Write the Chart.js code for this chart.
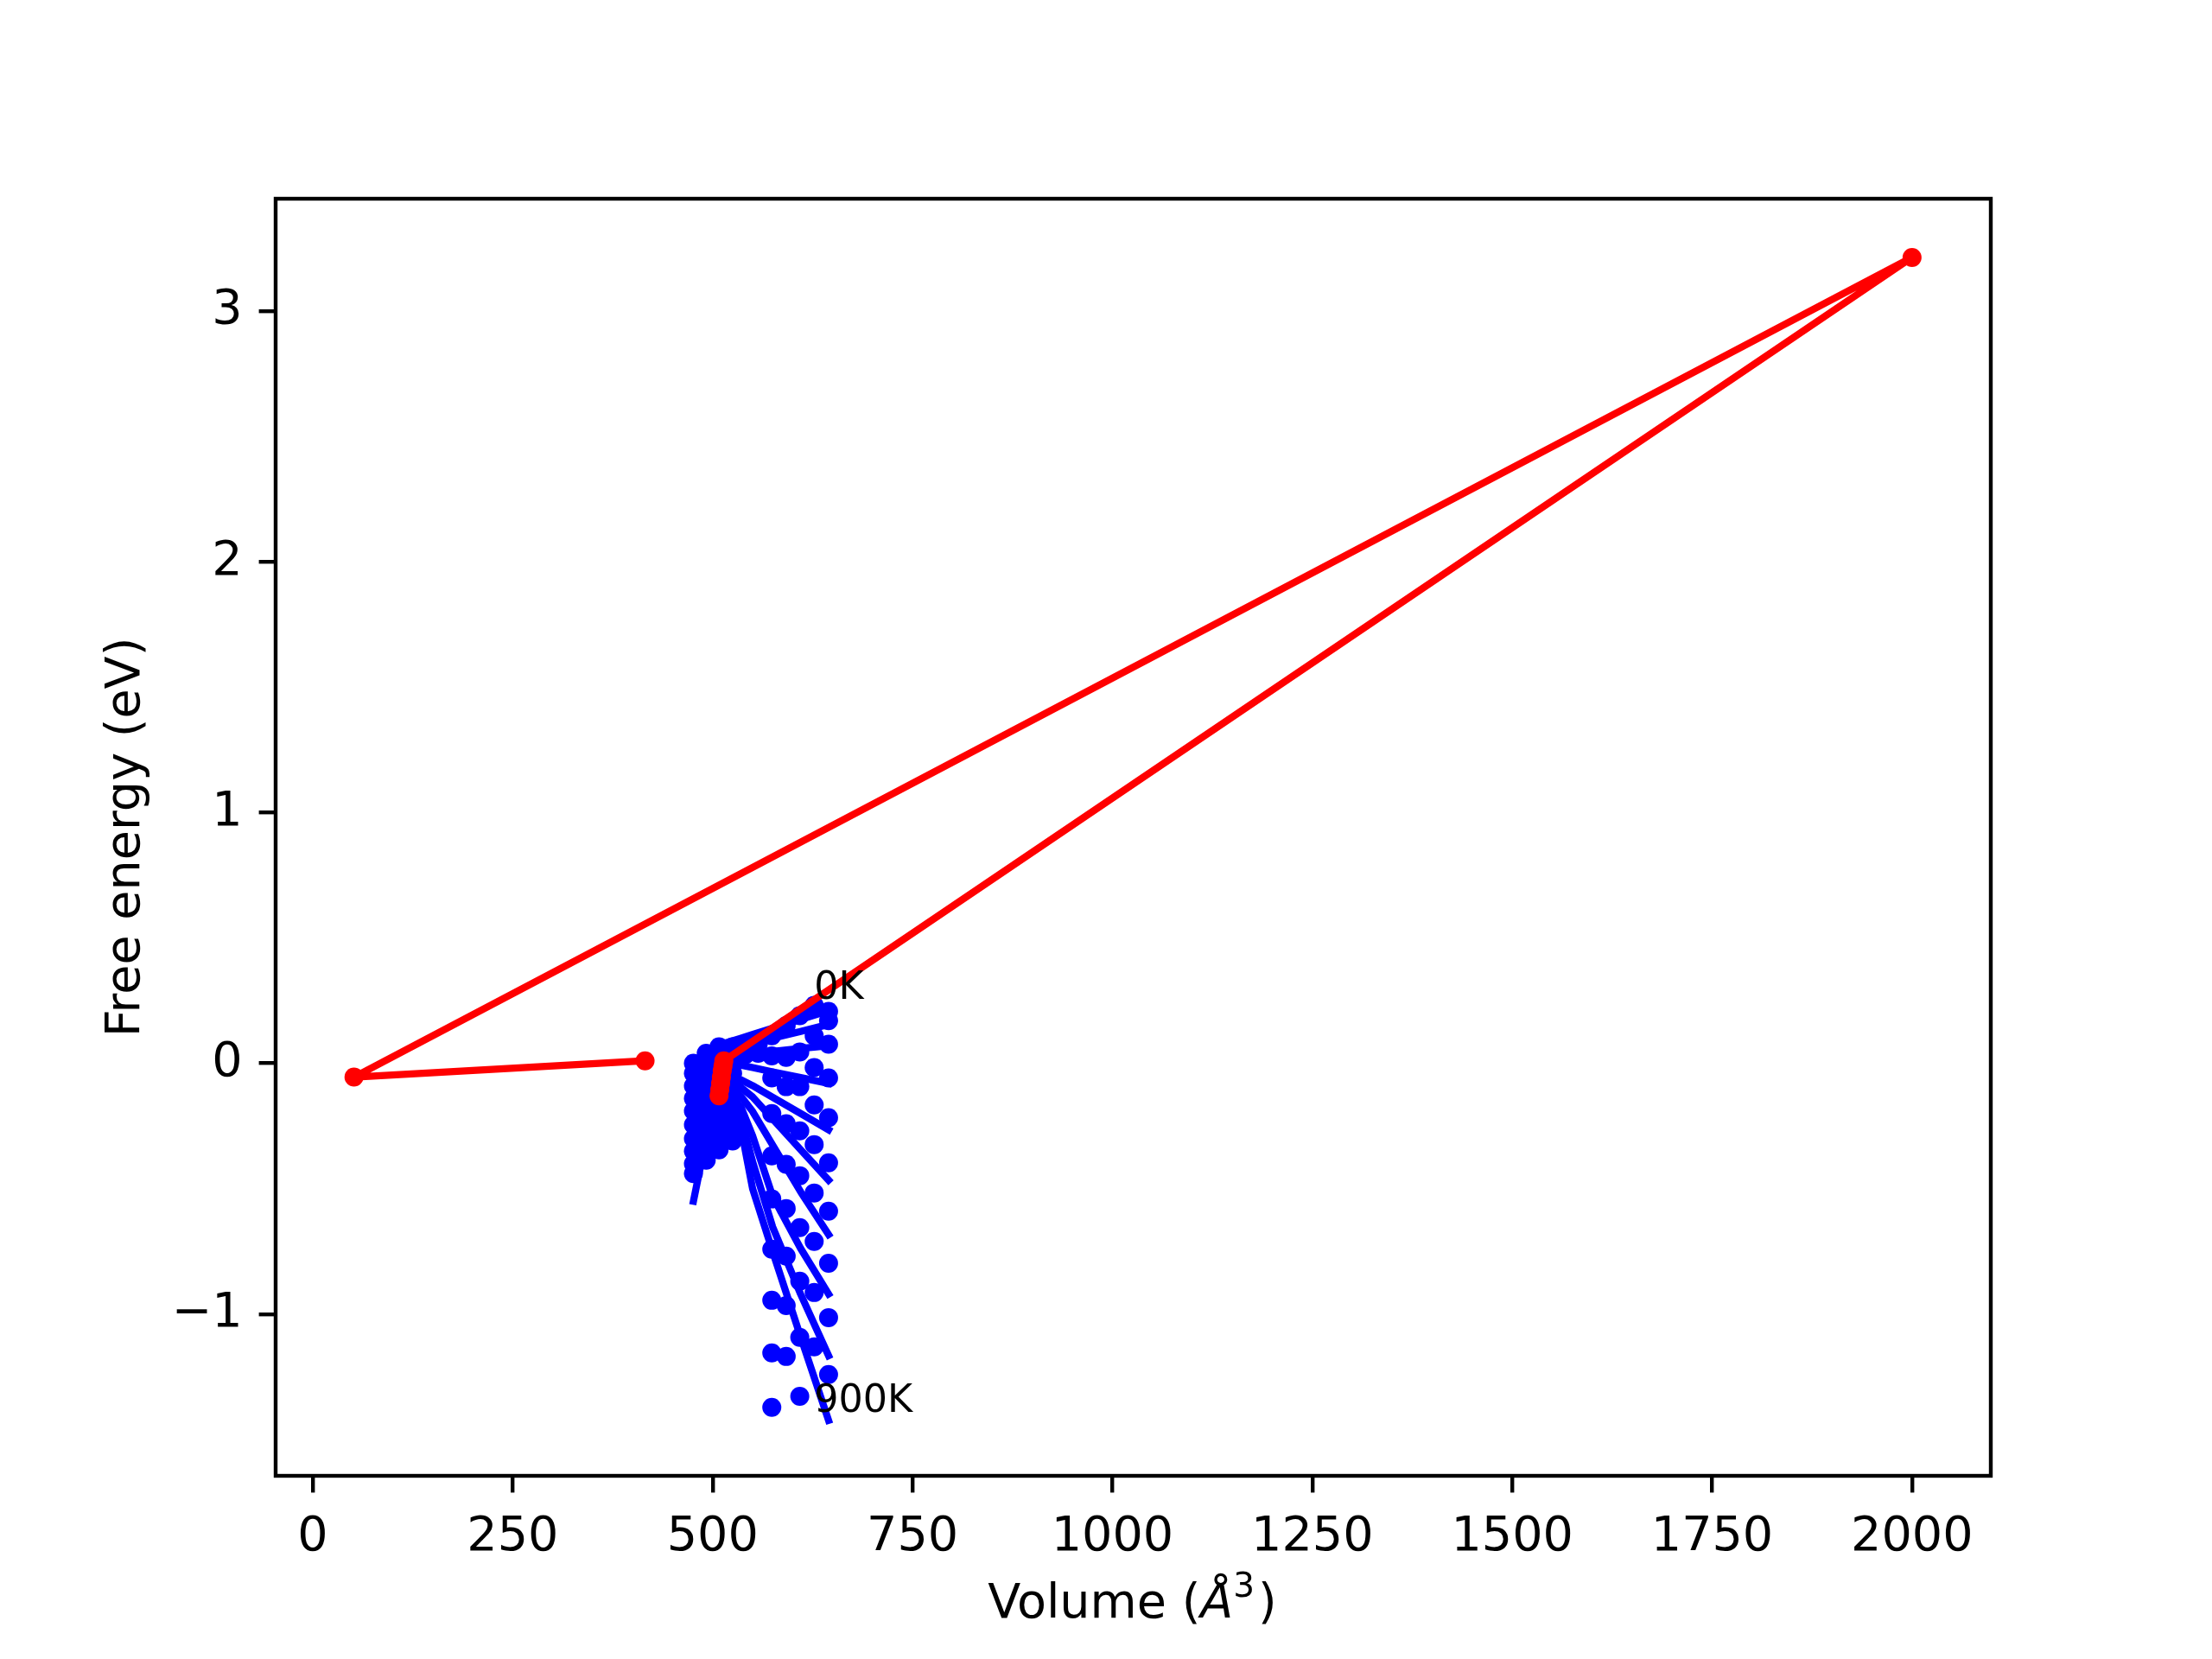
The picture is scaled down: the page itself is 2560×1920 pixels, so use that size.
<!DOCTYPE html>
<html lang="en">
<head>
<meta charset="UTF-8">
<title>Free energy vs volume</title>
<script src="https://cdn.jsdelivr.net/npm/chart.js"></script>
<style>
  body { margin: 0; background: #fff; }
  #wrap { width: 2560px; height: 1920px; }
</style>
</head>
<body>
<div id="wrap"><canvas id="qhaChart" width="2560" height="1920"></canvas></div>
<script>
// temperatures shown (every 100 K)
const temperatures = [0, 100, 200, 300, 400, 500, 600, 700, 800, 900];

// volumes (A^3) where the free energies were computed
const volumes = [476, 492, 508, 525, 541, 557, 574, 592, 609, 627, 645];

// free energy points (eV) for each temperature, null = no point
const free0K   = [0.0, 0.04, 0.066, 0.066, 0.066, 0.075, 0.11, 0.15, 0.19, 0.231, 0.207];
const free100K = [-0.04, 0.0, 0.03, 0.035, 0.035, 0.04, 0.03, 0.024, 0.045, 0.11, 0.17];
const free200K = [-0.09, -0.04, -0.01, 0.0, null, null, -0.058, -0.093, -0.093, -0.017, 0.076];
const free300K = [-0.14, -0.09, -0.06, -0.04, null, null, -0.2, -0.241, -0.269, -0.166, -0.058];
const free400K = [-0.19, -0.14, -0.1, -0.08, null, null, -0.369, -0.403, -0.448, -0.324, -0.217];
const free500K = [-0.245, -0.19, -0.15, -0.12, null, null, -0.541, -0.579, -0.655, -0.517, -0.397];
const free600K = [-0.3, -0.24, -0.2, -0.17, null, null, -0.741, -0.769, -0.869, -0.71, -0.59];
const free700K = [-0.35, -0.29, -0.25, -0.21, null, null, -0.945, -0.966, -1.093, -0.914, -0.797];
const free800K = [-0.4, -0.34, -0.3, -0.26, null, null, -1.155, -1.169, -1.328, -1.131, -1.014];
const free900K = [-0.44, -0.386, -0.345, -0.31, null, null, -1.372, null, null, null, -1.241];

// fitted EOS curves at these volumes
const fitVolumes = [476, 490, 505, 520, 535, 550, 575, 610, 645];
const fit0K   = [0.0, 0.04, 0.07, 0.085, 0.1, 0.115, 0.14, 0.175, 0.21];
const fit100K = [-0.02, 0.02, 0.045, 0.058, 0.068, 0.08, 0.1, 0.127, 0.155];
const fit200K = [-0.05, -0.01, 0.015, 0.028, 0.034, 0.039, 0.047, 0.059, 0.07];
const fit300K = [-0.09, -0.05, -0.025, -0.01, -0.007, -0.017, -0.034, -0.057, -0.08];
const fit400K = [-0.13, -0.08, -0.06, -0.055, -0.065, -0.089, -0.135, -0.2, -0.265];
const fit500K = [-0.19, -0.13, -0.1, -0.09, -0.095, -0.134, -0.222, -0.344, -0.466];
const fit600K = [-0.25, -0.17, -0.13, -0.12, -0.13, -0.192, -0.326, -0.512, -0.683];
const fit700K = [-0.33, -0.22, -0.17, -0.16, -0.17, -0.289, -0.53, -0.738, -0.92];
const fit800K = [-0.42, -0.28, -0.21, -0.19, -0.21, -0.392, -0.652, -0.92, -1.166];
const fit900K = [-0.55, -0.33, -0.23, -0.21, -0.25, -0.5, -0.75, -1.09, -1.424];

// equilibrium points (red)
const eqVolumes  = [508, 509, 510, 511, 512, 513, 514, 2000, 51.5, 415.5];
const eqEnergies = [-0.13, -0.105, -0.08, -0.055, -0.03, -0.01, 0.01, 3.214, -0.055, 0.01];

const xTicks = [0, 250, 500, 750, 1000, 1250, 1500, 1750, 2000];
const yTicks = [-1, 0, 1, 2, 3];

const freeEnergies = [free0K, free100K, free200K, free300K, free400K,
                      free500K, free600K, free700K, free800K, free900K];
const fits = [fit0K, fit100K, fit200K, fit300K, fit400K,
              fit500K, fit600K, fit700K, fit800K, fit900K];

const BLUE = '#0000ff';
const RED = '#ff0000';
const FONT = '"DejaVu Sans", sans-serif';
const FS = 55.6;       // 10 pt
const FS_SMALL = 44.4; // 8 pt, temperature labels

// matplotlib draws dots then curve for each T, then the red line on top
const datasets = [];
let order = 100;
temperatures.forEach((t, i) => {
    datasets.push({
        label: t + 'K points',
        data: volumes.map((v, j) => ({x: v, y: freeEnergies[i][j]})).filter(p => p.y !== null),
        showLine: false,
        pointRadius: 11,
        pointBackgroundColor: BLUE,
        pointBorderWidth: 0,
        order: order--
    });
    datasets.push({
        label: t + 'K fit',
        data: fitVolumes.map((v, j) => ({x: v, y: fits[i][j]})),
        showLine: true,
        borderColor: BLUE,
        borderWidth: 8.3,
        borderCapStyle: 'square',
        borderJoinStyle: 'round',
        pointRadius: 0,
        tension: 0,
        order: order--
    });
});
datasets.push({
    label: 'equilibrium',
    data: eqVolumes.map((v, j) => ({x: v, y: eqEnergies[j]})),
    showLine: true,
    borderColor: RED,
    borderWidth: 8.3,
    borderJoinStyle: 'round',
    pointRadius: 11,
    pointBackgroundColor: RED,
    pointBorderWidth: 0,
    tension: 0,
    order: 0
});

const extras = {
    id: 'extras',
    afterDatasetsDraw(chart) {
        const {ctx, chartArea: a, scales} = chart;
        ctx.save();
        // temperature labels, placed like phonopy does
        ctx.font = FS_SMALL + 'px ' + FONT;
        ctx.fillStyle = '#000';
        ctx.textAlign = 'left';
        ctx.textBaseline = 'alphabetic';
        const vx = scales.x.getPixelForValue(volumes[volumes.length - 2]);
        const last = volumes.length - 1;
        ctx.fillText(temperatures[0] + 'K', vx, scales.y.getPixelForValue(free0K[last] + 0.05));
        ctx.fillText(temperatures[9] + 'K', vx, scales.y.getPixelForValue(free900K[last] - 0.15));
        // axes frame
        ctx.strokeStyle = '#000';
        ctx.lineWidth = 4.4;
        ctx.strokeRect(a.left, a.top, a.right - a.left, a.bottom - a.top);
        ctx.restore();
    },
    afterDraw(chart) {
        const {ctx, chartArea: a} = chart;
        ctx.save();
        ctx.fillStyle = '#000';
        // y title
        ctx.font = FS + 'px ' + FONT;
        ctx.translate(147, (a.top + a.bottom) / 2);
        ctx.rotate(-Math.PI / 2);
        ctx.textAlign = 'center';
        ctx.textBaseline = 'middle';
        ctx.fillText('Free energy (eV)', 0, 0);
        ctx.restore();

        // x title: Volume (Å^3) with italic Å and superscript 3
        ctx.save();
        ctx.fillStyle = '#000';
        ctx.textAlign = 'left';
        ctx.textBaseline = 'alphabetic';
        const parts = [
            {t: 'Volume (', f: FS + 'px ' + FONT, dy: 0},
            {t: '\u00C5', f: 'italic ' + FS + 'px ' + FONT, dy: 0},
            {t: '3', f: (FS * 0.7) + 'px ' + FONT, dy: -24},
            {t: ')', f: FS + 'px ' + FONT, dy: 0}
        ];
        let total = 0;
        parts.forEach(p => { ctx.font = p.f; p.w = ctx.measureText(p.t).width; total += p.w; });
        let x = (a.left + a.right) / 2 - total / 2 - 3;
        const base = 1872;
        parts.forEach(p => { ctx.font = p.f; ctx.fillText(p.t, x, base + p.dy); x += p.w + (p.t === '3' ? 4 : 0); });
        ctx.restore();
    }
};

const tickFont = {family: FONT, size: FS};
const gridOpts = {
    display: true,
    drawOnChartArea: false,
    drawTicks: true,
    tickLength: 19.4,
    tickWidth: 4.4,
    tickColor: '#000',
    color: '#000',
    lineWidth: 4.4
};

new Chart(document.getElementById('qhaChart'), {
    type: 'scatter',
    data: {datasets: datasets},
    options: {
        responsive: false,
        devicePixelRatio: 1,
        animation: false,
        events: [],
        layout: {padding: {left: 0, top: 230, right: 256, bottom: 0}},
        plugins: {legend: {display: false}, tooltip: {enabled: false}},
        scales: {
            x: {
                type: 'linear',
                min: -46.5,
                max: 2098.5,
                border: {display: false},
                grid: gridOpts,
                afterBuildTicks: s => { s.ticks = xTicks.map(v => ({value: v})); },
                afterFit: s => { s.height = 212; },
                ticks: {
                    font: tickFont, color: '#000', padding: 19, maxRotation: 0, autoSkip: false,
                    callback: v => String(v)
                }
            },
            y: {
                type: 'linear',
                min: -1.645,
                max: 3.448,
                border: {display: false},
                grid: gridOpts,
                afterBuildTicks: s => { s.ticks = yTicks.map(v => ({value: v})); },
                afterFit: s => { s.width = 319; },
                ticks: {
                    font: tickFont, color: '#000', padding: 19, autoSkip: false,
                    callback: v => v < 0 ? '\u2212' + Math.abs(v) : String(v)
                }
            }
        }
    },
    plugins: [extras]
});
</script>
</body>
</html>
